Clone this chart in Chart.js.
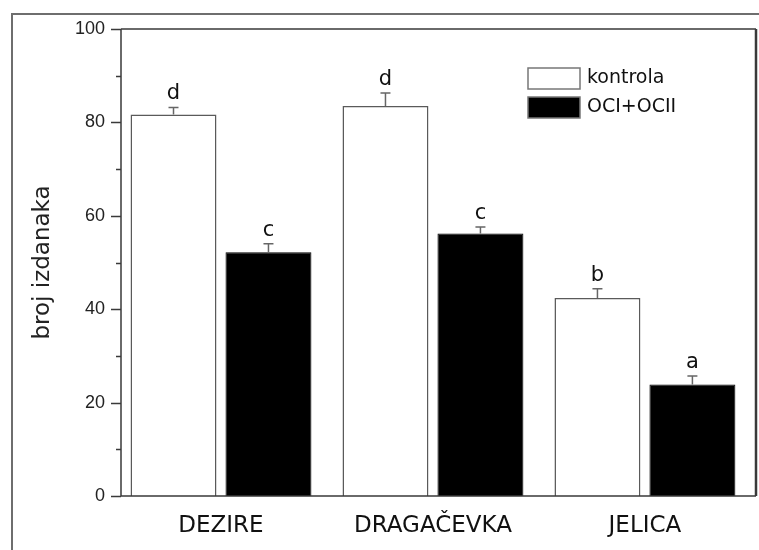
<!DOCTYPE html>
<html>
<head>
<meta charset="utf-8">
<script src="https://cdn.jsdelivr.net/npm/chart.js@4/dist/chart.umd.min.js"></script>
<style>
  html, body { margin: 0; padding: 0; background: #fff; }
  #wrap { width: 759px; height: 550px; }
</style>
</head>
<body>
<div id="wrap"><canvas id="c" width="759" height="550"></canvas></div>
<script>
const categories = ['DEZIRE', 'DRAGAČEVKA', 'JELICA'];
const seriesNames = ['kontrola', 'OCI+OCII'];
const kontrola = [81.7, 83.5, 42.4];
const kontrolaErr = [1.5, 2.8, 2.0];
const kontrolaLetters = ['d', 'd', 'b'];
const oci = [52.2, 56.2, 23.9];
const ociErr = [1.8, 1.4, 1.8];
const ociLetters = ['c', 'c', 'a'];
const yTicks = [0, 20, 40, 60, 80, 100];

const errs = [kontrolaErr, ociErr];
const letters = [kontrolaLetters, ociLetters];

const AXIS = '#3a3a3a';

const decor = {
  id: 'decor',
  beforeDraw(chart) {
    const ctx = chart.ctx;
    ctx.save();
    ctx.fillStyle = '#fff';
    ctx.fillRect(0, 0, chart.width, chart.height);
    // outer frame (top and left)
    ctx.strokeStyle = '#6e6e6e';
    ctx.lineWidth = 2;
    ctx.beginPath();
    ctx.moveTo(12, chart.height);
    ctx.lineTo(12, 14);
    ctx.lineTo(chart.width, 14);
    ctx.stroke();
    ctx.restore();
  },
  afterDatasetsDraw(chart) {
    const ctx = chart.ctx;
    const ys = chart.scales.y;
    ctx.save();
    chart.data.datasets.forEach((ds, i) => {
      const meta = chart.getDatasetMeta(i);
      meta.data.forEach((el, j) => {
        const v = ds.data[j].y;
        const top = ys.getPixelForValue(v + errs[i][j]);
        ctx.strokeStyle = '#666';
        ctx.lineWidth = 1.5;
        ctx.beginPath();
        ctx.moveTo(el.x, el.y);
        ctx.lineTo(el.x, top);
        ctx.moveTo(el.x - 5, top);
        ctx.lineTo(el.x + 5, top);
        ctx.stroke();
        ctx.fillStyle = '#111';
        ctx.font = '21px "DejaVu Sans"';
        ctx.textAlign = 'center';
        ctx.textBaseline = 'alphabetic';
        ctx.fillText(letters[i][j], el.x, top - 8);
      });
    });
    ctx.restore();
  },
  afterDraw(chart) {
    const ctx = chart.ctx;
    const a = chart.chartArea;
    const ys = chart.scales.y;
    ctx.save();
    ctx.strokeStyle = AXIS;
    ctx.lineWidth = 1.5;
    ctx.beginPath();
    ctx.moveTo(a.left, a.top);
    ctx.lineTo(a.left, a.bottom);
    ctx.lineTo(a.right, a.bottom);
    ctx.moveTo(a.left, a.top);
    ctx.lineTo(a.right, a.top);
    ctx.stroke();
    ctx.lineWidth = 2.5;
    ctx.beginPath();
    ctx.moveTo(a.right, a.top);
    ctx.lineTo(a.right, a.bottom);
    ctx.stroke();
    // tick marks
    ctx.lineWidth = 1.5;
    ctx.beginPath();
    for (let v = 0; v <= 100; v += 10) {
      const py = Math.round(ys.getPixelForValue(v)) + 0.5;
      const len = (v % 20 === 0) ? 10 : 5;
      ctx.moveTo(a.left - len, py);
      ctx.lineTo(a.left, py);
    }
    ctx.stroke();
    // legend
    const lx = 528, lw = 52, lh = 21;
    const ly = [68, 97];
    chart.data.datasets.forEach((ds, i) => {
      ctx.fillStyle = ds.backgroundColor;
      ctx.fillRect(lx, ly[i], lw, lh);
      ctx.strokeStyle = '#777';
      ctx.lineWidth = 1.5;
      ctx.strokeRect(lx, ly[i], lw, lh);
      ctx.fillStyle = '#111';
      ctx.font = '19px "DejaVu Sans"';
      ctx.textAlign = 'left';
      ctx.textBaseline = 'middle';
      ctx.fillText(ds.label, 587, ly[i] + lh / 2);
    });
    ctx.restore();
  }
};

new Chart(document.getElementById('c'), {
  type: 'bar',
  data: {
    datasets: [
      {
        label: seriesNames[0],
        data: kontrola.map((v, i) => ({ x: i, y: v })),
        backgroundColor: '#ffffff',
        borderColor: '#5a5a5a',
        borderWidth: 1.5
      },
      {
        label: seriesNames[1],
        data: oci.map((v, i) => ({ x: i, y: v })),
        backgroundColor: '#000000',
        borderColor: '#000000',
        borderWidth: 1
      }
    ]
  },
  options: {
    responsive: false,
    animation: false,
    devicePixelRatio: 1,
    layout: { padding: { top: 29, right: 3, left: 0, bottom: 0 } },
    categoryPercentage: 0.896,
    barPercentage: 0.905,
    plugins: { legend: { display: false }, tooltip: { enabled: false } },
    scales: {
      x: {
        type: 'linear',
        min: -0.4717,
        max: 2.524,
        offset: false,
        grid: { display: false, drawTicks: false },
        border: { display: false },
        afterBuildTicks: s => { s.ticks = categories.map((_, i) => ({ value: i })); },
        afterFit: s => { s.height = 54; },
        ticks: {
          autoSkip: false,
          maxRotation: 0,
          padding: 16,
          color: '#111',
          font: { family: '"DejaVu Sans"', size: 23 },
          callback: v => categories[v] ?? ''
        }
      },
      y: {
        min: 0,
        max: 100,
        grid: { display: false, drawTicks: false },
        border: { display: false },
        afterBuildTicks: s => { s.ticks = yTicks.map(v => ({ value: v })); },
        afterFit: s => { s.width = 121; },
        ticks: {
          padding: 16,
          color: '#222',
          font: { family: '"Liberation Sans"', size: 18 }
        },
        title: {
          display: true,
          text: 'broj izdanaka',
          color: '#222',
          font: { family: '"DejaVu Sans"', size: 23 },
          padding: { top: 29, bottom: 0 }
        }
      }
    }
  },
  plugins: [decor]
});
</script>
</body>
</html>
